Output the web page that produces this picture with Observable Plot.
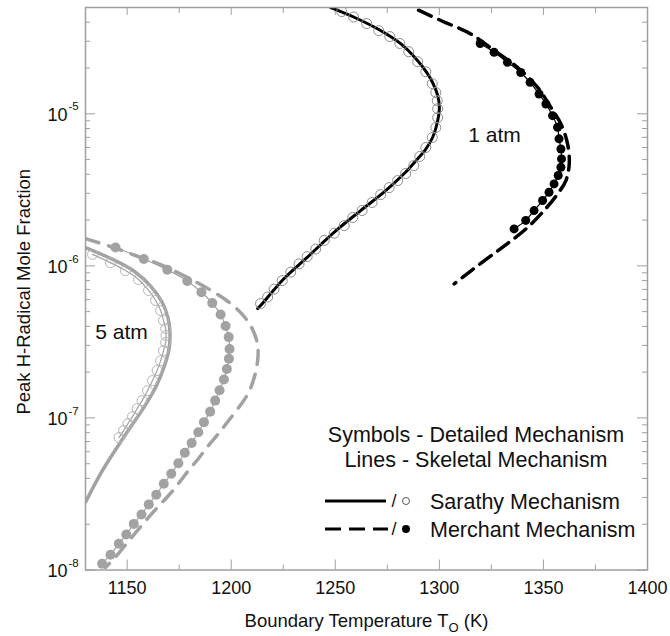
<!DOCTYPE html>
<html><head><meta charset="utf-8">
<script src="https://cdn.jsdelivr.net/npm/d3@7"></script>
<script src="https://cdn.jsdelivr.net/npm/@observablehq/plot@0.6"></script>
<style>body{margin:0;background:#fff;} svg{font-family:"Liberation Sans",Arial,sans-serif;}</style>
</head><body><div id="chart"></div>
<script>
// ---- Data ----
// 1 atm, Sarathy skeletal (solid black line)
const sar1LineT = [1212.7,1214.1,1225.3,1236.6,1249.4,1262.2,1273.4,1283.0,1289.5,1293.0,1296.8,1299.2,1300.0,1299.2,1296.8,1293.9,1289.5,1281.4,1270.9,1258.8,1247.8];
const sar1LineV = [5.24e-7,5.48e-7,8.22e-7,1.14e-6,1.66e-6,2.31e-6,3.05e-6,4.03e-6,5.05e-6,5.73e-6,7.01e-6,9.04e-6,1.10e-5,1.32e-5,1.60e-5,1.87e-5,2.24e-5,2.89e-5,3.58e-5,4.33e-5,4.99e-5];
// 1 atm, Sarathy detailed (open circles)
const sar1SymT = [1214.1,1217.5,1220.6,1224.5,1228.6,1232.6,1236.5,1240.6,1244.7,1249.5,1254.3,1258.4,1262.9,1267.7,1271.8,1275.9,1280.0,1283.8,1287.7,1290.6,1293.5,1296.6,1298.3,1299.2,1299.2,1299.0,1298.3,1296.6,1293.5,1289.6,1285.3,1281.0,1276.2,1270.9,1265.1,1258.8,1253.1];
const sar1SymV = [5.65e-7,6.24e-7,7.03e-7,8.00e-7,9.10e-7,1.03e-6,1.15e-6,1.29e-6,1.47e-6,1.64e-6,1.84e-6,2.08e-6,2.31e-6,2.61e-6,2.94e-6,3.27e-6,3.64e-6,4.05e-6,4.56e-6,5.24e-6,6.00e-6,6.98e-6,8.11e-6,9.44e-6,1.08e-5,1.22e-5,1.38e-5,1.58e-5,1.89e-5,2.20e-5,2.56e-5,2.90e-5,3.22e-5,3.52e-5,3.92e-5,4.33e-5,4.70e-5];
// 1 atm, Merchant skeletal (dashed black line)
const mer1LineT = [1290.0,1301.5,1315.1,1326.3,1337.5,1347.2,1353.6,1358.4,1361.6,1362.4,1360.8,1356.8,1350.3,1342.4,1332.7,1321.5,1307.1];
const mer1LineV = [4.8e-5,4.06e-5,3.35e-5,2.61e-5,2.02e-5,1.49e-5,1.10e-5,8.57e-6,6.34e-6,4.69e-6,3.64e-6,2.97e-6,2.31e-6,1.79e-6,1.40e-6,1.08e-6,7.62e-7];
// 1 atm, Merchant detailed (filled circles)
const mer1SymT = [1319.6,1326.3,1332.7,1339.1,1343.6,1347.9,1351.2,1354.4,1356.8,1357.5,1358.4,1358.7,1358.4,1357.1,1355.1,1352.7,1349.6,1345.5,1341.5,1335.9];
const mer1SymV = [2.90e-5,2.54e-5,2.18e-5,1.87e-5,1.61e-5,1.35e-5,1.16e-5,9.72e-6,8.15e-6,6.84e-6,5.87e-6,5.05e-6,4.45e-6,3.93e-6,3.46e-6,3.05e-6,2.69e-6,2.31e-6,1.99e-6,1.75e-6];
// 5 atm, Sarathy skeletal (solid grey line)
const sar5LineT = [1130.0,1142.0,1153.2,1161.3,1166.9,1169.7,1170.6,1170.0,1167.6,1163.7,1158.0,1151.6,1145.2,1137.2,1130.0];
const sar5LineV = [1.32e-6,1.12e-6,9.25e-7,7.36e-7,5.74e-7,4.51e-7,3.57e-7,2.77e-7,2.14e-7,1.59e-7,1.17e-7,8.69e-8,6.41e-8,4.29e-8,2.79e-8];
// 5 atm, Sarathy detailed (open grey circles)
const sar5SymT = [1133.4,1142.0,1149.2,1155.5,1160.3,1163.7,1166.1,1167.5,1168.5,1168.7,1168.5,1167.5,1166.1,1164.4,1162.2,1159.8,1157.2,1154.8,1152.6,1150.4,1148.3,1146.1];
const sar5SymV = [1.19e-6,1.05e-6,9.31e-7,8.13e-7,6.89e-7,5.92e-7,5.08e-7,4.37e-7,3.87e-7,3.48e-7,3.13e-7,2.77e-7,2.38e-7,2.05e-7,1.76e-7,1.51e-7,1.30e-7,1.15e-7,1.02e-7,9.18e-8,8.26e-8,7.43e-8];
// 5 atm, Merchant skeletal (dashed grey line)
const mer5LineT = [1130.0,1142.0,1154.0,1166.1,1178.1,1188.7,1197.8,1205.0,1209.8,1212.5,1212.9,1211.7,1208.4,1204.0,1198.8,1193.9,1189.1,1184.3,1179.5,1174.7,1169.9,1164.6,1159.8,1155.0,1150.2,1144.9,1139.6];
const mer5LineV = [1.51e-6,1.34e-6,1.17e-6,1.02e-6,8.51e-7,7.10e-7,5.92e-7,4.85e-7,3.93e-7,3.13e-7,2.57e-7,1.99e-7,1.47e-7,1.19e-7,9.62e-8,7.89e-8,6.59e-8,5.41e-8,4.51e-8,3.71e-8,3.09e-8,2.58e-8,2.18e-8,1.82e-8,1.52e-8,1.24e-8,1.04e-8];
// 5 atm, Merchant detailed (filled grey circles)
const mer5SymT = [1144.4,1158.0,1169.3,1178.9,1185.7,1190.9,1194.9,1197.3,1198.8,1199.2,1198.9,1197.9,1196.5,1194.4,1192.3,1189.9,1186.9,1184.2,1181.0,1177.7,1174.6,1171.2,1167.6,1164.0,1160.4,1156.9,1153.2,1149.6,1146.0,1142.0,1138.0];
const mer5SymV = [1.32e-6,1.11e-6,9.42e-7,7.96e-7,6.70e-7,5.69e-7,4.79e-7,4.02e-7,3.40e-7,2.84e-7,2.45e-7,2.10e-7,1.79e-7,1.52e-7,1.30e-7,1.10e-7,9.38e-8,8.05e-8,6.85e-8,5.90e-8,5.04e-8,4.29e-8,3.69e-8,3.13e-8,2.70e-8,2.32e-8,2.01e-8,1.71e-8,1.49e-8,1.26e-8,1.10e-8];

// Ticks and labels
const xMajorTicks = [1150,1200,1250,1300,1350,1400];
const xMinorTicks = [1175,1225,1275,1325,1375];
const yDecades = [1e-8,1e-7,1e-6,1e-5];
const yMinorTicks = [2e-8,3e-8,4e-8,5e-8,6e-8,7e-8,8e-8,9e-8,2e-7,3e-7,4e-7,5e-7,6e-7,7e-7,8e-7,9e-7,2e-6,3e-6,4e-6,5e-6,6e-6,7e-6,8e-6,9e-6,2e-5,3e-5,4e-5];
const xTitle = "Boundary Temperature TO (K)";
const yTitle = "Peak H-Radical Mole Fraction";
const legendHeader = ["Symbols - Detailed Mechanism", "Lines - Skeletal Mechanism"];
const legendNames = ["Sarathy Mechanism", "Merchant Mechanism"];
const pressureLabels = ["1 atm", "5 atm"];

const rows = (T, V) => T.map((t, i) => ({T: t, V: V[i]}));
const BLACK = "#000", GREY = "#a2a2a2", AXIS = "#a0a0a0";
const innerH = 636 - 7 - 66.5, innerW = 670 - 85 - 23;

const plot = Plot.plot({
  width: 670, height: 636,
  marginLeft: 85, marginRight: 23, marginTop: 7, marginBottom: 66.5,
  style: {fontFamily: "'Liberation Sans', Arial, sans-serif", background: "#fff", color: "#111"},
  x: {domain: [1130, 1400], axis: null},
  y: {type: "log", domain: [1e-8, 5e-5], axis: null},
  marks: [
    // ticks (inside the frame)
    Plot.tickX(xMajorTicks, {x: d => d, stroke: AXIS, strokeWidth: 1, insetTop: innerH - 10}),
    Plot.tickX(xMinorTicks, {x: d => d, stroke: AXIS, strokeWidth: 1, insetTop: innerH - 5}),
    Plot.tickX(xMajorTicks, {x: d => d, stroke: AXIS, strokeWidth: 1, insetBottom: innerH - 8}),
    Plot.tickX(xMinorTicks, {x: d => d, stroke: AXIS, strokeWidth: 1, insetBottom: innerH - 6}),
    Plot.tickY(yDecades, {y: d => d, stroke: AXIS, strokeWidth: 1, insetRight: innerW - 10}),
    Plot.tickY(yMinorTicks, {y: d => d, stroke: AXIS, strokeWidth: 1, insetRight: innerW - 5}),
    Plot.tickY(yDecades, {y: d => d, stroke: AXIS, strokeWidth: 1, insetLeft: innerW - 10}),
    Plot.tickY(yMinorTicks, {y: d => d, stroke: AXIS, strokeWidth: 1, insetLeft: innerW - 5}),
    // tick labels
    Plot.text(xMajorTicks, {x: d => d, text: d => String(d), frameAnchor: "bottom", lineAnchor: "middle", dy: 18, fontSize: 18, fill: "#111"}),
    Plot.text(yDecades, {y: d => d, text: () => "10", frameAnchor: "left", lineAnchor: "middle", dx: -18, dy: 1, textAnchor: "end", fontSize: 18, fill: "#111"}),
    Plot.text(yDecades, {y: d => d, text: d => String(Math.round(Math.log10(d))), frameAnchor: "left", lineAnchor: "middle", dx: -17, dy: -7, textAnchor: "start", fontSize: 11.5, fill: "#111"}),
    // axis titles
    Plot.text([xTitle], {text: d => d, frameAnchor: "bottom", lineAnchor: "middle", textAnchor: "middle", dy: 51, fontSize: 18.5, fill: "#111"}),
    Plot.text([yTitle], {text: d => d, frameAnchor: "left", lineAnchor: "middle", textAnchor: "middle", dx: -61, dy: 3, rotate: -90, fontSize: 18.5, fill: "#111"}),
    // 5 atm curves (grey)
    Plot.line(rows(mer5LineT, mer5LineV), {x: "T", y: "V", stroke: GREY, strokeWidth: 3.5, strokeDasharray: "14,10", curve: "catmull-rom", clip: true}),
    Plot.line(rows(sar5LineT, sar5LineV), {x: "T", y: "V", stroke: GREY, strokeWidth: 3.5, curve: "catmull-rom", clip: true}),
    Plot.line(rows(mer5SymT, mer5SymV), {x: "T", y: "V", stroke: GREY, strokeWidth: 1.2, curve: "catmull-rom", clip: true}),
    Plot.line(rows(sar5SymT, sar5SymV), {x: "T", y: "V", stroke: GREY, strokeWidth: 1.2, curve: "catmull-rom", clip: true}),
    Plot.dot(rows(mer5SymT, mer5SymV), {x: "T", y: "V", r: 5, fill: GREY, stroke: "none", clip: true}),
    Plot.dot(rows(sar5SymT, sar5SymV), {x: "T", y: "V", r: 5, fill: "none", stroke: "#b4b4b4", strokeWidth: 1, clip: true}),
    // 1 atm curves (black)
    Plot.line(rows(mer1LineT, mer1LineV), {x: "T", y: "V", stroke: BLACK, strokeWidth: 3.5, strokeDasharray: "14,8", curve: "catmull-rom", clip: true}),
    Plot.line(rows(sar1LineT, sar1LineV), {x: "T", y: "V", stroke: BLACK, strokeWidth: 3, curve: "catmull-rom", clip: true}),
    Plot.line(rows(mer1SymT, mer1SymV), {x: "T", y: "V", stroke: BLACK, strokeWidth: 1.2, curve: "catmull-rom", clip: true}),
    Plot.dot(rows(mer1SymT, mer1SymV), {x: "T", y: "V", r: 4.5, fill: BLACK, stroke: "none", clip: true}),
    Plot.dot(rows(sar1SymT, sar1SymV), {x: "T", y: "V", r: 5, fill: "none", stroke: "#8c8c8c", strokeWidth: 1, clip: true}),
    // annotations
    Plot.text([pressureLabels[0]], {text: d => d, frameAnchor: "top-right", lineAnchor: "middle", dx: -153, dy: 128, textAnchor: "middle", fontSize: 21, fill: "#111"}),
    Plot.text([pressureLabels[1]], {text: d => d, frameAnchor: "top-left", lineAnchor: "middle", dx: 36, dy: 325, textAnchor: "middle", fontSize: 21, fill: "#111"}),
    Plot.frame({stroke: AXIS, strokeWidth: 1.5})
  ]
});

document.getElementById("chart").appendChild(plot);

// subscript O in the x-axis title
const svg = d3.select(plot);
svg.selectAll("text").filter(function () { return this.textContent === xTitle; }).each(function () {
  const t = d3.select(this);
  t.text(null);
  t.append("tspan").text("Boundary Temperature T");
  t.append("tspan").attr("dy", 5).attr("font-size", 13).text("O");
  t.append("tspan").attr("dy", -5).text(" (K)");
});

// legend inside the plot
const lg = svg.append("g").attr("font-size", 21.5).attr("fill", "#111").attr("text-anchor", "start");
lg.append("text").attr("x", 476).attr("y", 434).attr("dy", "0.35em").attr("text-anchor", "middle").text(legendHeader[0]);
lg.append("text").attr("x", 476).attr("y", 459).attr("dy", "0.35em").attr("text-anchor", "middle").text(legendHeader[1]);
const rowsY = [501, 529];
lg.append("line").attr("x1", 325).attr("x2", 386).attr("y1", rowsY[0]).attr("y2", rowsY[0]).attr("stroke", BLACK).attr("stroke-width", 3);
lg.append("line").attr("x1", 325).attr("x2", 388).attr("y1", rowsY[1]).attr("y2", rowsY[1]).attr("stroke", BLACK).attr("stroke-width", 3).attr("stroke-dasharray", "16,8");
rowsY.forEach((y, i) => {
  lg.append("text").attr("x", 394).attr("y", y).attr("dy", "0.35em").attr("text-anchor", "middle").attr("font-size", 18).text("/");
  lg.append("text").attr("x", 430).attr("y", y).attr("dy", "0.35em").attr("text-anchor", "start").text(legendNames[i]);
});
lg.append("circle").attr("cx", 406).attr("cy", rowsY[0]).attr("r", 3.5).attr("fill", "none").attr("stroke", "#555").attr("stroke-width", 1);
lg.append("circle").attr("cx", 406).attr("cy", rowsY[1]).attr("r", 4).attr("fill", BLACK);
</script>
</body></html>
